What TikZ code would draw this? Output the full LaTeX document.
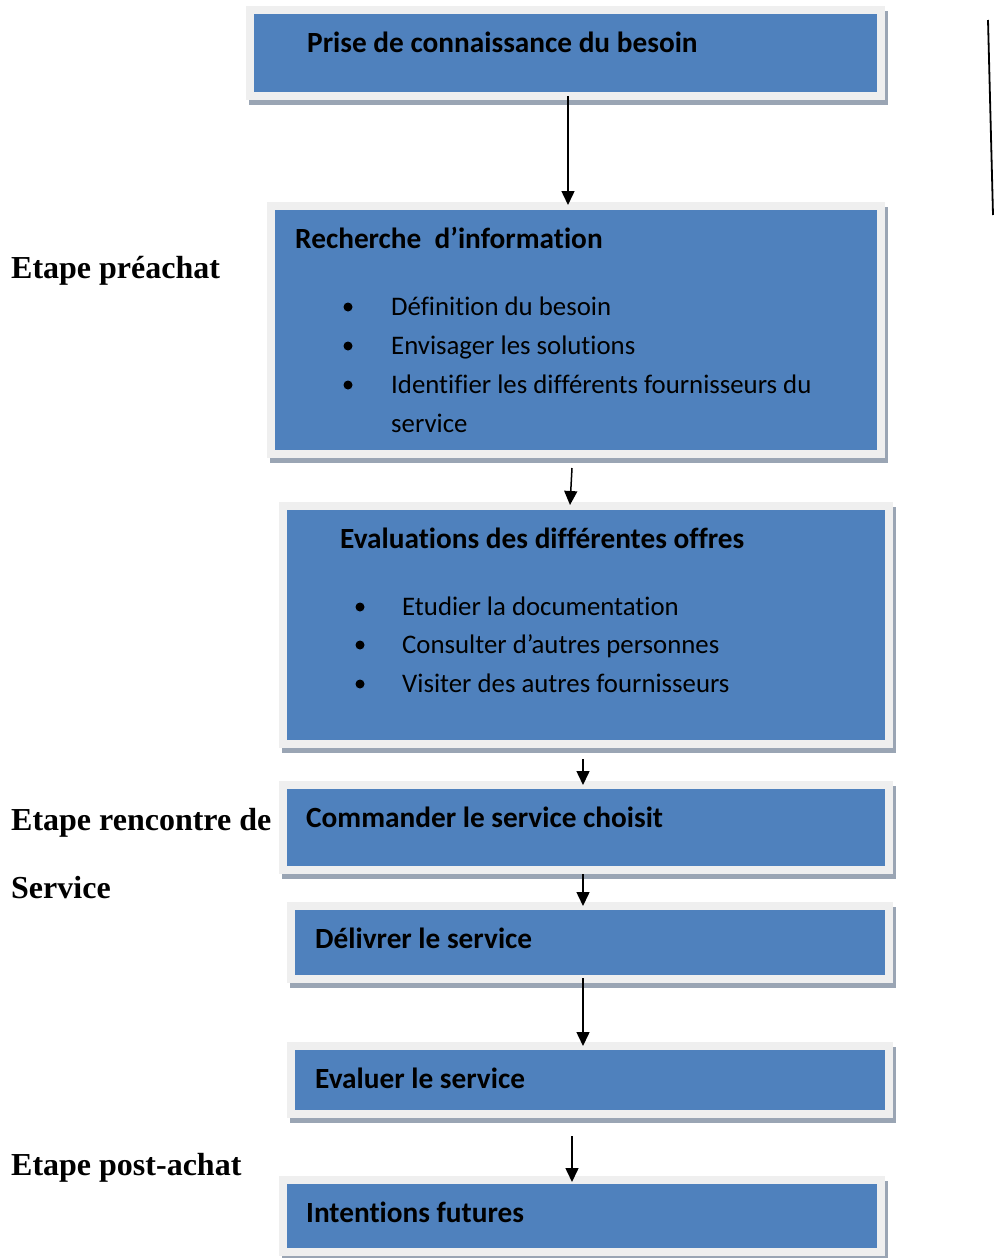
\documentclass[tikz,border=0pt]{standalone}
\usepackage{fontspec}
\setmainfont{Liberation Serif}
\newfontfamily\calfont[Ligatures=CommonOff]{Carlito}
\usetikzlibrary{arrows.meta}
\definecolor{boxblue}{HTML}{4F81BD}
\definecolor{framegray}{HTML}{EFEFEF}
\definecolor{shadowgray}{HTML}{9AA5B4}
\tikzset{
  bluebox/.style={fill=boxblue, draw=none, inner sep=0pt, anchor=north west},
  titletext/.style={inner sep=0pt, anchor=base west, font=\calfont\bfseries\fontsize{29.3}{31}\selectfont},
  itemtext/.style={inner sep=0pt, anchor=base west, font=\calfont\fontsize{26.8}{28}\selectfont},
  sidetext/.style={inner sep=0pt, anchor=base west, font=\bfseries\fontsize{32}{34}\selectfont},
  bulletdot/.style={circle, fill=black, inner sep=0pt, minimum size=9pt},
  arr/.style={line width=1.5pt, -{Triangle[length=14pt,width=13pt]}},
}
\newcommand{\framedbox}[5]{%
  % #1 name, (#2,#3) top-left, (#4,#5) bottom-right of blue area
  \fill[shadowgray] (#2-8+3,#3-8+5) rectangle (#4+8+3,#5+8+5);
  \fill[framegray] (#2-8,#3-8) rectangle (#4+8,#5+8);
  \node[bluebox, minimum width=#4-#2, minimum height=#5-#3] (#1) at (#2,#3) {};
}
\begin{document}
\begin{tikzpicture}[x=1pt,y=-1pt]
\fill[white] (0,0) rectangle (995,1258);
\useasboundingbox (0,0) rectangle (995,1258);

\framedbox{b1}{254}{14}{877}{92}
\framedbox{b2}{275}{210}{877}{450}
\framedbox{b3}{287}{510}{885}{740}
\framedbox{b4}{287}{789}{885}{866}
\framedbox{b5}{295}{910}{885}{975}
\framedbox{b6}{295}{1050}{885}{1110}
\framedbox{b7}{287}{1184}{877}{1248}

% box texts
\node[titletext] (t1) at (307,52) {Prise de connaissance du besoin};

\node[titletext] (t2) at (295,248) {Recherche\ \ d’information};
\node[bulletdot] (d21) at (348,307) {};
\node[bulletdot] (d22) at (348,346) {};
\node[bulletdot] (d23) at (348,385) {};
\node[itemtext] (i21) at (391,315) {Définition du besoin};
\node[itemtext] (i22) at (391,354) {Envisager les solutions};
\node[itemtext] (i23) at (391,393) {Identifier les différents fournisseurs du};
\node[itemtext] (i24) at (391,432) {service};

\node[titletext] (t3) at (340,548) {Evaluations des différentes offres};
\node[bulletdot] (d31) at (360,607) {};
\node[bulletdot] (d32) at (360,645) {};
\node[bulletdot] (d33) at (360,684) {};
\node[itemtext] (i31) at (402,615) {Etudier la documentation};
\node[itemtext] (i32) at (402,653) {Consulter d’autres personnes};
\node[itemtext] (i33) at (402,692) {Visiter des autres fournisseurs};

\node[titletext] (t4) at (306,827) {Commander le service choisit};
\node[titletext] (t5) at (315,948) {Délivrer le service};
\node[titletext] (t6) at (315,1088) {Evaluer le service};
\node[titletext] (t7) at (306,1222) {Intentions futures};

% side labels
\node[sidetext] (s1) at (11,278) {Etape préachat};
\node[sidetext] (s2) at (11,830) {Etape rencontre de};
\node[sidetext] (s3) at (11,898) {Service};
\node[sidetext] (s4) at (11,1175) {Etape post-achat};

% arrows
\coordinate (a1s) at (568,96);   \coordinate (a1e) at (568,205);
\coordinate (a2s) at (572,468);  \coordinate (a2e) at (570,505);
\coordinate (a3s) at (583,759);  \coordinate (a3e) at (583,785);
\coordinate (a4s) at (583,874);  \coordinate (a4e) at (583,906);
\coordinate (a5s) at (583,978);  \coordinate (a5e) at (583,1046);
\coordinate (a6s) at (572,1136); \coordinate (a6e) at (572,1182);
\draw[arr] (a1s) -- (a1e);
\draw[arr] (a2s) -- (a2e);
\draw[arr] (a3s) -- (a3e);
\draw[arr] (a4s) -- (a4e);
\draw[arr] (a5s) -- (a5e);
\draw[arr] (a6s) -- (a6e);

% right vertical line
\coordinate (r1) at (988,20);
\coordinate (r2) at (993,215);
\draw[line width=1.8pt] (r1) -- (r2);
\end{tikzpicture}
\end{document}
